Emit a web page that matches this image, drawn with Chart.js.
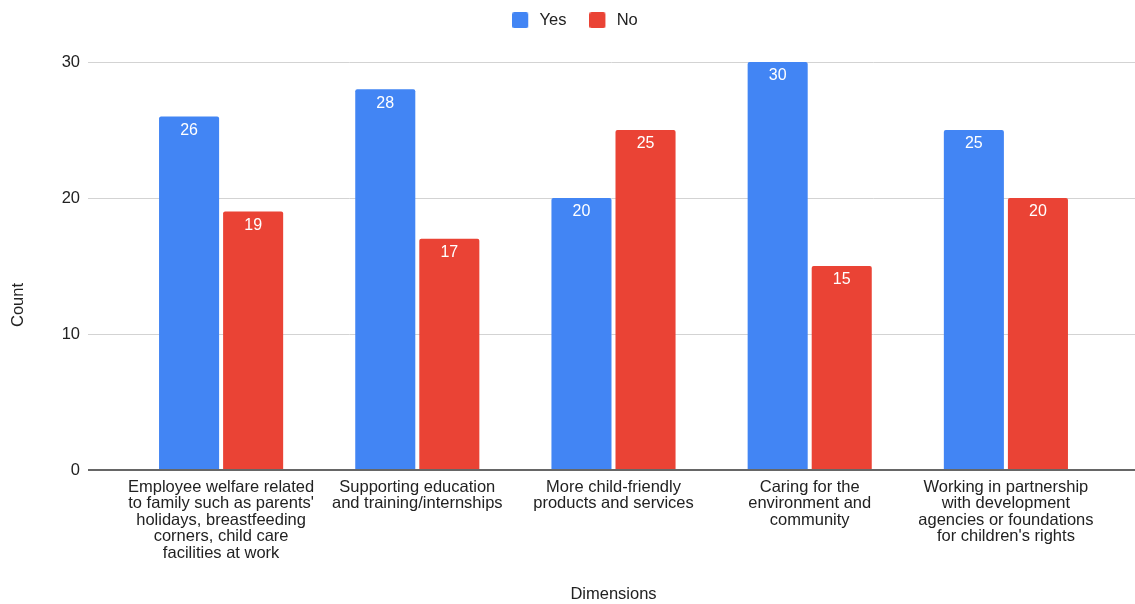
<!DOCTYPE html>
<html>
<head>
<meta charset="utf-8">
<script src="https://cdn.jsdelivr.net/npm/chart.js@4.4.0/dist/chart.umd.min.js"></script>
<style>
  html, body { margin: 0; padding: 0; background: #fff; }
  #wrap { width: 1135px; height: 604px; }
</style>
</head>
<body>
<div id="wrap"><canvas id="surveyChart" width="1135" height="604"></canvas></div>
<script>
const categories = [
    ['Employee welfare related', "to family such as parents'", 'holidays, breastfeeding', 'corners, child care', 'facilities at work'],
    ['Supporting education', 'and training/internships'],
    ['More child-friendly', 'products and services'],
    ['Caring for the', 'environment and', 'community'],
    ['Working in partnership', 'with development', 'agencies or foundations', "for children's rights"]
];
const seriesNames = ['Yes', 'No'];
const yesCounts = [26, 28, 20, 30, 25];
const noCounts = [19, 17, 25, 15, 20];
const yTicks = [0, 10, 20, 30];

const FONT = 'Arial, "Liberation Sans", sans-serif';
const TEXT = '#222222';
const BLUE = '#4285F4';
const RED = '#EA4335';

// legend swatch: rounded square on the left of a slightly wider canvas
function swatch(color) {
    const c = document.createElement('canvas');
    c.width = 19;
    c.height = 16;
    const g = c.getContext('2d');
    g.fillStyle = color;
    g.beginPath();
    g.roundRect(0, 0, 16, 16, 2);
    g.fill();
    return c;
}
const swatches = [swatch(BLUE), swatch(RED)];

// horizontal gridlines run a bit past the bar area on both sides
const gridLines = {
    id: 'gridLines',
    beforeInit(chart) {
        // leave a gap between legend and plot
        const legend = chart.legend;
        const fit = legend.fit;
        legend.fit = function () {
            fit.call(this);
            this.height = 73;
        };
    },
    afterLayout(chart) {
        chart.legend.left += 23;
        chart.legend.right += 23;
    },
    beforeDatasetsDraw(chart) {
        const ctx = chart.ctx;
        const y = chart.scales.y;
        ctx.save();
        ctx.strokeStyle = '#d3d3d3';
        ctx.lineWidth = 1;
        y.ticks.forEach(t => {
            if (t.value === 0) return;
            const py = Math.round(y.getPixelForValue(t.value)) + 0.5;
            ctx.beginPath();
            ctx.moveTo(88, py);
            ctx.lineTo(chart.width, py);
            ctx.stroke();
        });
        ctx.restore();

        // y axis title, centred on the canvas height like the original
        ctx.save();
        ctx.fillStyle = TEXT;
        ctx.font = '16.5px ' + FONT;
        ctx.textAlign = 'center';
        ctx.textBaseline = 'middle';
        ctx.translate(18, 305);
        ctx.rotate(-Math.PI / 2);
        ctx.fillText('Count', 0, 0);
        ctx.restore();
    },
    afterDatasetsDraw(chart) {
        const ctx = chart.ctx;
        const y = chart.scales.y;
        const py = Math.round(y.getPixelForValue(0));
        ctx.save();
        ctx.strokeStyle = '#666666';
        ctx.lineWidth = 2;
        ctx.beginPath();
        ctx.moveTo(88, py);
        ctx.lineTo(chart.width, py);
        ctx.stroke();
        ctx.restore();
    }
};

// white value labels just inside the top of each bar
const barValues = {
    id: 'barValues',
    afterDatasetsDraw(chart) {
        const ctx = chart.ctx;
        ctx.save();
        ctx.fillStyle = '#ffffff';
        ctx.font = '16px ' + FONT;
        ctx.textAlign = 'center';
        ctx.textBaseline = 'middle';
        chart.data.datasets.forEach((ds, i) => {
            chart.getDatasetMeta(i).data.forEach((bar, j) => {
                ctx.fillText(String(ds.data[j]), bar.x, bar.y + 14);
            });
        });
        ctx.restore();
    }
};

new Chart(document.getElementById('surveyChart'), {
    type: 'bar',
    data: {
        labels: categories,
        datasets: [
            {
                label: seriesNames[0],
                data: yesCounts,
                backgroundColor: BLUE,
                borderRadius: { topLeft: 2, topRight: 2 },
                borderSkipped: 'bottom',
                barPercentage: 0.9375,
                categoryPercentage: 0.653
            },
            {
                label: seriesNames[1],
                data: noCounts,
                backgroundColor: RED,
                borderRadius: { topLeft: 2, topRight: 2 },
                borderSkipped: 'bottom',
                barPercentage: 0.9375,
                categoryPercentage: 0.653
            }
        ]
    },
    options: {
        responsive: false,
        animation: false,
        devicePixelRatio: 1,
        layout: { padding: { left: 0, right: 31, top: -11, bottom: 0 } },
        plugins: {
            legend: {
                position: 'top',
                labels: {
                    usePointStyle: true,
                    pointStyleWidth: 19,
                    boxHeight: 16,
                    padding: 23,
                    color: TEXT,
                    font: { family: FONT, size: 16.5 },
                    generateLabels(chart) {
                        const items = Chart.defaults.plugins.legend.labels.generateLabels(chart);
                        items.forEach((it, i) => { it.pointStyle = swatches[i]; });
                        return items;
                    }
                }
            },
            tooltip: { enabled: false }
        },
        scales: {
            x: {
                grid: { display: false, drawTicks: false },
                border: { display: false },
                ticks: {
                    color: TEXT,
                    padding: 9,
                    maxRotation: 0,
                    autoSkip: false,
                    font: { family: FONT, size: 16.5, lineHeight: 1.0 }
                },
                title: {
                    display: true,
                    text: 'Dimensions',
                    color: TEXT,
                    font: { family: FONT, size: 16.5 },
                    padding: { top: 0, bottom: 0 }
                },
                afterFit(scale) { scale.height = 134; }
            },
            y: {
                min: 0,
                max: 30,
                afterBuildTicks(scale) { scale.ticks = yTicks.map(v => ({ value: v })); },
                grid: { display: false, drawTicks: false },
                border: { display: false },
                ticks: {
                    color: TEXT,
                    padding: 43,
                    font: { family: FONT, size: 16.5 }
                },
                afterFit(scale) { scale.width = 123; }
            }
        }
    },
    plugins: [gridLines, barValues]
});
</script>
</body>
</html>
